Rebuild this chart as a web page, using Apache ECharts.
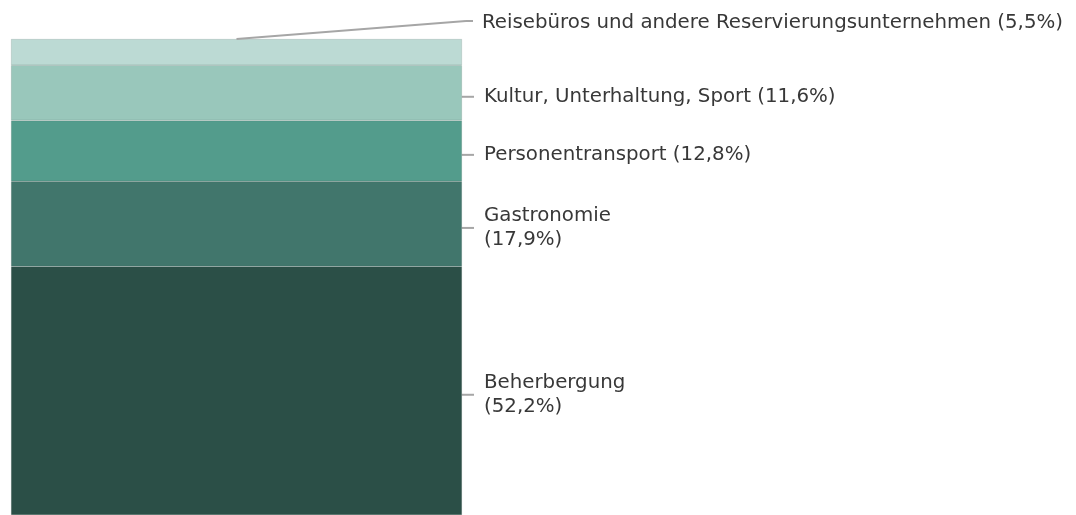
<!DOCTYPE html>
<html>
<head>
<meta charset="utf-8">
<script src="https://cdn.jsdelivr.net/npm/echarts@6/dist/echarts.min.js"></script>
<style>
	html, body { margin: 0; padding: 0; background: #fff; }
	#main { width: 1076px; height: 515px; }
</style>
</head>
<body>
<div id="main"></div>
<script>
// Anteile, von unten nach oben gestapelt
var categories = [ 'Gesamt' ];
var seriesNames = [ 'Beherbergung', 'Gastronomie', 'Personentransport', 'Kultur, Unterhaltung, Sport', 'Reisebüros und andere Reservierungsunternehmen' ];
var seriesValues = [ 52.2, 17.9, 12.8, 11.6, 5.5 ];
var labelTexts = [ 'Beherbergung\n(52,2%)', 'Gastronomie\n(17,9%)', 'Personentransport (12,8%)', 'Kultur, Unterhaltung, Sport (11,6%)', 'Reisebüros und andere Reservierungsunternehmen (5,5%)' ];
var colors = [ '#2b4f47', '#41766c', '#539c8c', '#99c7bb', '#bcdad4' ];

var lineColor = '#a6a6a6';

var myChart = echarts.init(document.getElementById('main'));

// oberste Beschriftung sitzt ueber dem Balken
function topLabelLayout(params) {
	var r = params.rect;
	return {
		x : r.x + r.width + 10,
		y : r.y - 16,
		align : 'left',
		verticalAlign : 'middle'
	};
}

var series = [];
for (var i = 0; i < seriesValues.length; i++) {
	var isTop = (i == seriesValues.length - 1);
	var s = {
		name : seriesNames[i],
		type : 'bar',
		stack : 'total',
		barWidth : '100%',
		data : [ seriesValues[i] ],
		itemStyle : {
			color : colors[i],
			borderColor : 'rgba(60,80,75,0.25)',
			borderWidth : 0.6
		},
		label : {
			show : true,
			position : 'right',
			distance : 0,
			formatter : labelTexts[i],
			color : '#383838',
			fontFamily : 'DejaVu Sans',
			fontSize : 19.8,
			lineHeight : 24,
			padding : [ 0, 0, 0, 10 ]
		},
		labelLine : {
			show : !isTop,
			lineStyle : {
				color : lineColor,
				width : 2
			}
		},
		labelLayout : isTop ? topLabelLayout : {
			dx : 12,
			dy : 4
		}
	};
	if (isTop) {
		// Fuehrungslinie von der Mitte der Oberkante zur Beschriftung
		s.markLine = {
			silent : true,
			symbol : 'none',
			label : { show : false },
			lineStyle : {
				color : lineColor,
				width : 2,
				type : 'solid'
			},
			data : [
				[ { coord : [ categories[0], 100 ] }, { x : 466, y : 21 } ],
				[ { x : 466, y : 21 }, { x : 473, y : 21 } ]
			]
		};
	}
	series.push(s);
}

var option = {
	animation : false,
	grid : {
		left : 11,
		right : 614,
		top : 39,
		bottom : 0
	},
	xAxis : {
		type : 'category',
		data : categories,
		show : false
	},
	yAxis : {
		type : 'value',
		min : 0,
		max : 100,
		show : false
	},
	series : series
};

myChart.setOption(option);
</script>
</body>
</html>
